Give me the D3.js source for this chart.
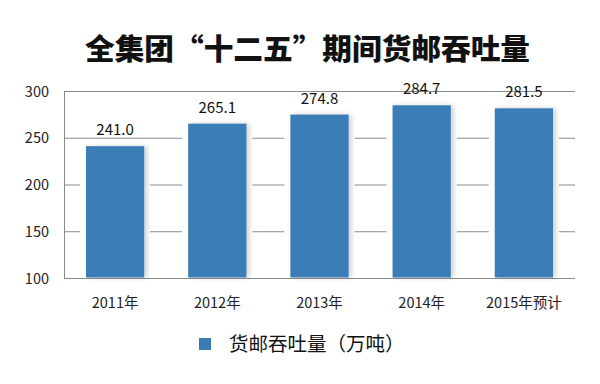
<!DOCTYPE html>
<html><head><meta charset="utf-8">
<script src="https://cdn.jsdelivr.net/npm/d3@7"></script>
<style>body{margin:0;background:#fff}svg{display:block}</style>
</head><body>
<svg id="c" width="600" height="384"></svg>
<script>
const title = "全集团“十二五”期间货邮吞吐量";
const categories = ["2011年","2012年","2013年","2014年","2015年预计"];
const values = [241.0, 265.1, 274.8, 284.7, 281.5];
const valueLabels = ["241.0","265.1","274.8","284.7","281.5"];
const yTicks = [100,150,200,250,300];
const seriesName = "货邮吞吐量（万吨）";

const svg = d3.select("#c");
const W = 600, H = 384;
const m = {left:64, right:25, top:91, bottom:106};
const x = d3.scaleBand().domain(categories).range([m.left, W-m.right]).paddingInner(0.43).paddingOuter(0.215);
const y = d3.scaleLinear().domain([100,300]).range([H-m.bottom, m.top]);
const font = "'Noto Sans CJK SC', 'Noto Sans', sans-serif";
const barColor = "#3a7db6";

svg.append("rect").attr("width",W).attr("height",H).attr("fill","#fff");

// title
svg.append("text").attr("x",85).attr("y",60)
  .attr("font-family", font).attr("font-weight", 900).attr("font-size", 29)
  .attr("fill","#111").attr("textLength",445).attr("lengthAdjust","spacingAndGlyphs")
  .text(title);

// grid
const yAxis = d3.axisLeft(y).tickValues(yTicks).tickSize(-(W-m.left-m.right)).tickPadding(15).tickFormat(d3.format("d"));
const ga = svg.append("g").attr("transform",`translate(${m.left},0)`).call(yAxis);
ga.select(".domain").attr("stroke","#8a8a8a").attr("stroke-width",1);
ga.selectAll(".tick line").attr("stroke","#8a8a8a").attr("stroke-width",1);
ga.selectAll(".tick text").attr("font-family",font).attr("font-size",14.5).attr("fill","#222").attr("dy","0.35em");

// shadows
const defs = svg.append("defs");
const f = defs.append("filter").attr("id","sh").attr("x","-20%").attr("y","-10%").attr("width","140%").attr("height","120%");
f.append("feGaussianBlur").attr("in","SourceAlpha").attr("stdDeviation",2.5).attr("result","b");
f.append("feOffset").attr("in","b").attr("dx",3).attr("dy",0).attr("result","o");
f.append("feComponentTransfer").attr("in","o").attr("result","o2").append("feFuncA").attr("type","linear").attr("slope",0.18);
const mg = f.append("feMerge");
mg.append("feMergeNode").attr("in","o2");
mg.append("feMergeNode").attr("in","SourceGraphic");

// white gap behind bars
svg.append("g").selectAll("rect").data(values).join("rect")
  .attr("x",(d,i)=>x(categories[i])-6).attr("width",x.bandwidth()+12)
  .attr("y",d=>y(d)).attr("height",d=>y(100)-y(d)-1).attr("fill","#fff");

svg.append("g").selectAll("rect").data(values).join("rect")
  .attr("x",(d,i)=>x(categories[i])).attr("width",x.bandwidth())
  .attr("y",d=>y(d)).attr("height",d=>y(100)-y(d)-0.5)
  .attr("fill",barColor).attr("filter","url(#sh)");

// value labels
svg.append("g").selectAll("text").data(values).join("text")
  .attr("x",(d,i)=>x(categories[i])+x.bandwidth()/2).attr("y",d=>y(d)-11)
  .attr("text-anchor","middle").attr("font-family",font).attr("font-size",15).attr("fill","#111")
  .text((d,i)=>valueLabels[i]);

// x labels
svg.append("g").selectAll("text").data(categories).join("text")
  .attr("x",d=>x(d)+x.bandwidth()/2).attr("y",308)
  .attr("text-anchor","middle").attr("font-family",font).attr("font-size",14.5).attr("fill","#222")
  .text(d=>d);

// legend
svg.append("rect").attr("x",199).attr("y",338).attr("width",12).attr("height",12).attr("fill",barColor);
svg.append("text").attr("x",229).attr("y",351).attr("font-family",font).attr("font-size",19.5).attr("fill","#111")
  .text(seriesName);
</script>
</body></html>
